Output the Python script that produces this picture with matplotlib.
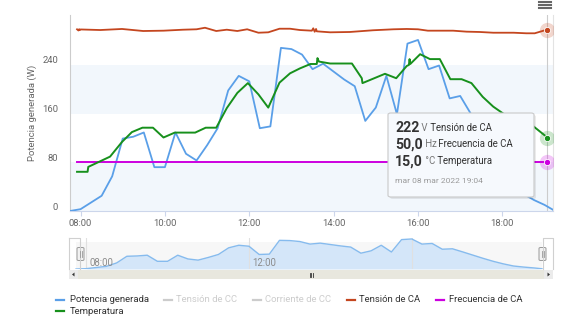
import matplotlib
matplotlib.use("Agg")
import matplotlib.pyplot as plt
import matplotlib.transforms as mtransforms
from matplotlib.lines import Line2D
from matplotlib.patches import Rectangle, FancyBboxPatch, Polygon

# ---- data ----
power_time = ["07:45", "08:00", "08:30", "08:45", "09:00", "09:15", "09:30", "09:45",
              "10:00", "10:15", "10:30", "10:45", "11:00", "11:15", "11:30", "11:45",
              "12:00", "12:15", "12:30", "12:45", "13:00", "13:15", "13:30", "13:45",
              "14:00", "14:15", "14:30", "14:45", "15:00", "15:15", "15:30", "15:45",
              "16:00", "16:15", "16:30", "16:45", "17:00", "17:15", "17:30", "17:45",
              "18:00", "18:15", "18:30", "18:45", "19:00", "19:12"]
power_w = [0, 3, 25, 57, 119, 122, 129, 72,
           72, 129, 94, 83, 108, 136, 198, 222,
           213, 136, 139, 268, 266, 257, 233, 242,
           229, 216, 205, 148, 170, 222, 159, 275,
           281, 233, 239, 185, 189, 160, 130, 100,
           72, 48, 28, 18, 10, 2]

vac_time = ["07:55", "07:57", "07:58", "07:59", "08:00", "08:28", "08:59", "09:29",
            "09:58", "10:26", "10:45", "10:57", "11:13", "11:28", "11:43", "11:57",
            "12:13", "12:27", "12:43", "12:58", "13:12", "13:29", "13:31", "13:33",
            "13:35", "13:36", "13:55", "14:23", "14:56", "15:25", "15:44", "16:00",
            "16:14", "16:31", "16:50", "17:09", "17:28", "17:47", "18:16", "18:34",
            "18:46", "19:04"]
vac_v = [222.5, 221.0, 222.6, 221.4, 222.3, 221.6, 222.9, 220.4,
         220.8, 222.0, 222.5, 224.4, 220.4, 222.0, 220.4, 222.5,
         218.3, 218.8, 223.2, 223.2, 221.6, 220.8, 223.7, 219.5,
         222.9, 220.0, 218.8, 219.2, 221.3, 222.5, 222.9, 222.5,
         220.8, 220.8, 220.8, 219.6, 219.2, 218.3, 218.3, 217.6,
         217.6, 222.2]

freq_time = ["07:55", "19:04"]
freq_hz = [50.0, 50.0]

temp_time = ["07:55", "08:10", "08:11", "08:42", "08:59", "09:13", "09:28", "09:43",
             "09:58", "10:14", "10:43", "10:58", "11:13", "11:28", "11:43", "11:58",
             "12:13", "12:27", "12:43", "12:58", "13:12", "13:27", "13:36", "13:37",
             "13:39", "13:55", "14:26", "14:40", "14:41", "15:13", "15:29", "15:44",
             "15:47", "15:48", "15:49", "16:03", "16:17", "16:31", "16:46", "17:02",
             "17:16", "17:32", "17:47", "18:04", "18:44", "19:04"]
temp_c = [8.0, 8.0, 9.0, 11.1, 14.1, 16.1, 17.0, 17.0,
          15.0, 16.0, 16.0, 17.0, 17.0, 21.0, 24.1, 26.1,
          23.8, 21.1, 26.2, 28.1, 29.1, 30.0, 30.0, 31.2,
          30.5, 30.1, 30.1, 27.1, 26.1, 28.0, 27.1, 29.6,
          29.8, 31.0, 30.0, 32.0, 31.0, 31.0, 26.9, 26.9,
          26.1, 23.3, 21.3, 19.6, 17.3, 15.0]

x_ticks = ["08:00", "10:00", "12:00", "14:00", "16:00", "18:00"]
y_ticks = [0, 80, 160, 240]
nav_ticks = ["08:00", "12:00"]
hover_time = "19:04"

series_names = ["Potencia generada", "Tensión de CC", "Corriente de CC",
                "Tensión de CA", "Frecuencia de CA", "Temperatura"]
series_colors = ["#5a9fe8", "#cccccc", "#cccccc", "#c4461f", "#cc00e0", "#17901c"]
series_visible = [True, False, False, True, True, True]

W, H = 567, 329


def hours(labels):
    return [int(s[:2]) + int(s[3:]) / 60 for s in labels]


def fx(x):
    return x / W


def fy(y):
    return 1 - y / H


plt.rcParams["font.family"] = ["Roboto", "DejaVu Sans"]
fig = plt.figure(figsize=(W / 100, H / 100), dpi=100)

BLUE, RED, MAG, GREEN = series_colors[0], series_colors[3], series_colors[4], series_colors[5]

# ---- main plot ----
ax = fig.add_axes([fx(70), fy(211), 483 / W, 196 / H])
t0, t1 = hours(["07:45", "19:12"])
ax.set_xlim(t0, t1)
ax.set_ylim(0, 322)
ax.axhspan(0, 80, color="#f2f7fc", lw=0, zorder=0)
ax.axhspan(160, 240, color="#f2f7fc", lw=0, zorder=0)

ax.plot(hours(power_time), power_w, color=BLUE, lw=1.3, zorder=3)

ax.set_yticks(y_ticks)
ax.tick_params(axis="y", length=0, pad=8.6, labelsize=6.8, labelcolor="#666666")
shift = mtransforms.ScaledTranslation(0, 5 / 100, fig.dpi_scale_trans)
for lab in ax.get_yticklabels():
    lab.set_transform(lab.get_transform() + shift)

ax.set_xticks(hours(x_ticks))
ax.set_xticklabels(x_ticks)
ax.tick_params(axis="x", length=3.6, width=0.8, color="#ccd6eb", pad=1.8,
               labelsize=6.8, labelcolor="#666666")

ax.spines["top"].set_visible(False)
ax.spines["left"].set_color("#cccccc")
ax.spines["bottom"].set_color("#ccd6eb")
ax.spines["right"].set_color("#e3e3e3")
for s in ("left", "bottom", "right"):
    ax.spines[s].set_linewidth(0.8)

th = hours([hover_time])[0]
ax.axvline(th, color="#cccccc", lw=0.8, zorder=2)

fig.text(fx(32), fy(113), "Potencia generada (W)", rotation=90, ha="center",
         va="center", fontsize=6.8, color="#666666")

# hidden secondary axes for the other series
ax_v = ax.twinx()
ax_v.set_ylim(0, 240)
ax_f = ax.twinx()
ax_f.set_ylim(0, 200)
ax_t = ax.twinx()
ax_t.set_ylim(0, 40)
for tw in (ax_v, ax_f, ax_t):
    tw.axis("off")

ax_v.plot(hours(vac_time), vac_v, color=RED, lw=1.3)
ax_f.plot(hours(freq_time), freq_hz, color=MAG, lw=1.4)
ax_t.plot(hours(temp_time), temp_c, color=GREEN, lw=1.4)

for tw, val, col in ((ax_v, vac_v[-1], RED), (ax_f, freq_hz[-1], MAG), (ax_t, temp_c[-1], GREEN)):
    tw.plot(th, val, "o", ms=11, color=col, alpha=0.22, mec="none", zorder=5)
    tw.plot(th, val, "o", ms=4.5, color=col, mec="white", mew=0.6, zorder=6)

# ---- tooltip ----
fig.add_artist(FancyBboxPatch((fx(390), fy(199)), 146 / W, 84 / H,
                              boxstyle="round,pad=0,rounding_size=0.005",
                              transform=fig.transFigure, fc="#000000", ec="none",
                              alpha=0.08))
fig.add_artist(FancyBboxPatch((fx(388), fy(197)), 146 / W, 84 / H,
                              boxstyle="round,pad=0,rounding_size=0.005",
                              transform=fig.transFigure, fc="#f6f9fd", ec="#c9c9c9",
                              lw=0.8))
rows = [(f"{vac_v[-1]:.0f}", "V", series_names[3], 128.5),
        (f"{freq_hz[-1]:.1f}".replace(".", ","), "Hz", series_names[4], 145),
        (f"{temp_c[-1]:.1f}".replace(".", ","), "°C", series_names[5], 161.5)]
for big, unit, name, yy in rows:
    t_big = fig.text(fx(395), fy(yy), big, fontsize=10.2, fontweight="bold",
                     color="#333333", ha="left", va="center")
    t_unit = fig.add_artist(plt.Annotation(" " + unit, xy=(1, 0.18), xycoords=t_big,
                                           fontsize=6.9, color="#777777", va="bottom"))
    fig.add_artist(plt.Annotation(" " + name, xy=(1, 0), xycoords=t_unit,
                                  fontsize=6.9, color="#333333", va="bottom"))
fig.text(fx(395), fy(181), "mar 08 mar 2022 19:04", fontsize=6.0, color="#999999",
         ha="left", va="center")

# ---- menu button ----
for yy in (1.5, 4.5, 7.5):
    fig.add_artist(Line2D([fx(539), fx(551)], [fy(yy), fy(yy)], transform=fig.transFigure,
                          color="#666666", lw=1.5))

# ---- navigator ----
nav = fig.add_axes([fx(69), fy(269), 484 / W, 31 / H])
nav.set_xlim(7.578, 19.47)
nav.set_ylim(0, 290)
nav.axvspan(t0, t1, ymin=0, ymax=27 / 31, color="#f7f7f7", lw=0, zorder=0)
nav.fill_between(hours(power_time), power_w, color="#d4e6f9", lw=0, zorder=1)
nav.plot(hours(power_time), power_w, color="#86bbee", lw=1.0, zorder=2)
for tk in hours(nav_ticks + ["16:00"]):
    nav.axvline(tk, color="#e0e0e0", lw=0.8, zorder=1.5)
for lab, tk in zip(nav_ticks, hours(nav_ticks)):
    nav.text(tk + 0.07, 56, lab, fontsize=6.9, color="#8c8c8c", ha="left", va="center",
             zorder=3)
nav.set_xticks([])
nav.set_yticks([])
for s in nav.spines.values():
    s.set_visible(False)

outline = dict(transform=fig.transFigure, color="#d0d0d0", lw=0.8)
fig.add_artist(Line2D([fx(69), fx(80), fx(80)], [fy(238), fy(238), fy(269)], **outline))
fig.add_artist(Line2D([fx(69), fx(69)], [fy(238), fy(269)], **outline))
fig.add_artist(Line2D([fx(543), fx(543), fx(553), fx(553)],
                      [fy(269), fy(238), fy(238), fy(269)], **outline))

for hx in (80.5, 542.5):
    fig.add_artist(FancyBboxPatch((fx(hx - 3.5), fy(260.5)), 7 / W, 13 / H,
                                  boxstyle="round,pad=0,rounding_size=0.003",
                                  transform=fig.transFigure, fc="#f2f2f2",
                                  ec="#999999", lw=0.7))
    for dx in (-1, 1):
        fig.add_artist(Line2D([fx(hx + dx), fx(hx + dx)], [fy(251), fy(257)],
                              transform=fig.transFigure, color="#999999", lw=0.6))

# scrollbar
fig.add_artist(Rectangle((fx(69), fy(279)), 484 / W, 9 / H, transform=fig.transFigure,
                         fc="#e8e7de", ec="none"))
fig.add_artist(Rectangle((fx(69), fy(279)), 9 / W, 9 / H, transform=fig.transFigure,
                         fc="#ebebeb", ec="none"))
fig.add_artist(Rectangle((fx(544), fy(279)), 9 / W, 9 / H, transform=fig.transFigure,
                         fc="#ebebeb", ec="none"))
fig.add_artist(Polygon([(fx(72), fy(274.5)), (fx(74.5), fy(272.5)), (fx(74.5), fy(276.5))],
                       transform=fig.transFigure, fc="#333333", ec="none"))
fig.add_artist(Polygon([(fx(550), fy(274.5)), (fx(547.5), fy(272.5)), (fx(547.5), fy(276.5))],
                       transform=fig.transFigure, fc="#333333", ec="none"))
for gx in (309.5, 311, 312.5):
    fig.add_artist(Line2D([fx(gx), fx(gx)], [fy(272.5), fy(276.5)],
                          transform=fig.transFigure, color="#333333", lw=0.6))

# ---- legend ----
legend_pos = [(56, 70, 300), (164, 176, 300), (253, 265, 300),
              (347, 359, 300), (436, 449, 300), (56, 70, 311)]
for (lx, tx, ly), name, col, vis in zip(legend_pos, series_names, series_colors, series_visible):
    fig.add_artist(Line2D([fx(lx), fx(lx + 8)], [fy(ly), fy(ly)], transform=fig.transFigure,
                          color=col, lw=1.6))
    fig.text(fx(tx), fy(ly), name, fontsize=6.8, color="#333333" if vis else "#cccccc",
             ha="left", va="center")

fig.savefig("out.png", dpi=100)
